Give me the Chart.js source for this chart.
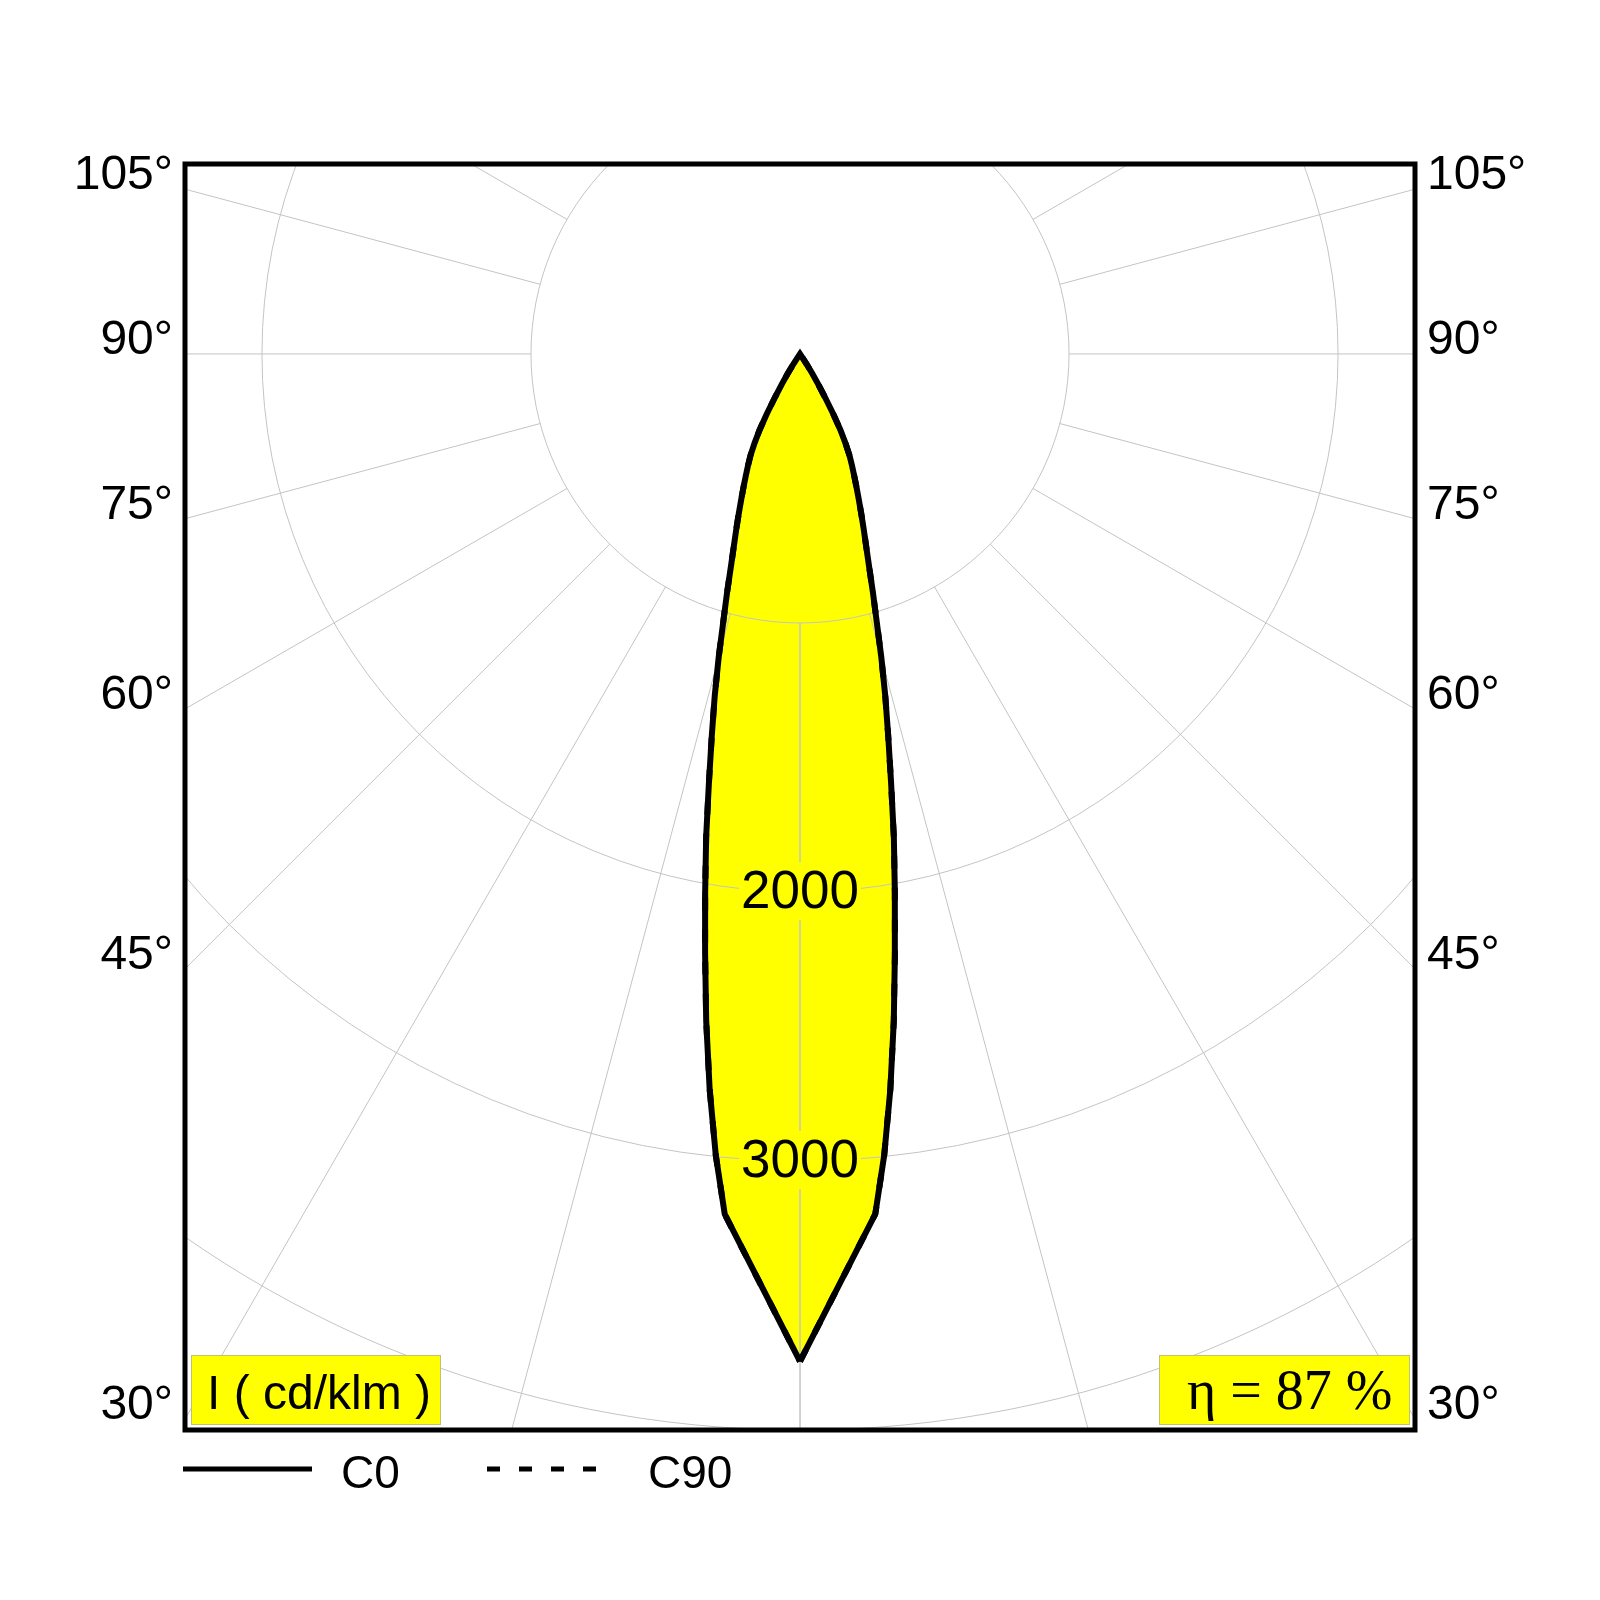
<!DOCTYPE html>
<html>
<head>
<meta charset="utf-8">
<title>Polar intensity diagram</title>
<script src="https://cdn.jsdelivr.net/npm/chart.js@4.4.1/dist/chart.umd.min.js"></script>
<style>
  html, body { margin: 0; padding: 0; background: #fff; }
  #wrap { width: 1600px; height: 1600px; }
</style>
</head>
<body>
<div id="wrap"><canvas id="polarChart" width="1600" height="1600"></canvas></div>
<script>
// gamma angles (deg) and intensities (cd/klm)
const gammaAngles = [0, 5, 6, 7, 8, 9, 10, 11, 12, 13, 14, 15, 16, 17, 18, 19, 20, 21, 22, 23, 24, 25, 26, 27, 28, 29, 30, 31, 32, 33, 34, 35];
const c0Values  = [3745, 3210, 2995, 2755, 2505, 2255, 2030, 1828, 1628, 1458, 1310, 1168, 1034, 927, 831, 755, 692, 635, 583, 537, 495, 457, 420, 372, 320, 255, 185, 130, 88, 45, 12, 0];
const c90Values = [3745, 3210, 2995, 2755, 2505, 2255, 2030, 1828, 1628, 1458, 1310, 1168, 1034, 927, 831, 755, 692, 635, 583, 537, 495, 457, 420, 372, 320, 255, 185, 130, 88, 45, 12, 0];
const seriesNames = ['C0', 'C90'];

// grid
const ringValues = [1000, 2000, 3000, 4000];
const ringLabels = [2000, 3000];
const angleTicks = [30, 45, 60, 75, 90, 105];
const unitLabel = 'I ( cd/klm )';
const efficiencyLabel = 'η = 87 %';

const SANS = "'Liberation Sans', Arial, sans-serif";
const SERIF = "'Liberation Serif', 'Times New Roman', serif";
const YELLOW = '#ffff00';

function toRad(d) {
    return d * Math.PI / 180;
}

// one C-plane half: sign 1 = right side, -1 = left side
function halfPlane(values, sign) {
    return gammaAngles.map((g, i) => ({
        x: sign * values[i] * Math.sin(toRad(g)),
        y: -values[i] * Math.cos(toRad(g))
    }));
}

// full closed curve (C0/C180 or C90/C270), symmetric luminaire
function closedCurve(values) {
    return halfPlane(values, 1).concat(halfPlane(values, -1).reverse());
}

function drawGrid(chart) {
    const { ctx, chartArea: a, scales: { x, y } } = chart;
    ctx.save();
    ctx.beginPath();
    ctx.rect(a.left, a.top, a.width, a.height);
    ctx.clip();
    ctx.strokeStyle = '#c4c4c4';
    ctx.lineWidth = 1;

    const cx = x.getPixelForValue(0);
    const cy = y.getPixelForValue(0);
    ringValues.forEach(v => {
        const r = x.getPixelForValue(v) - cx;
        ctx.beginPath();
        ctx.arc(cx, cy, r, 0, Math.PI * 2);
        ctx.stroke();
    });

    // radial lines every 15 deg, starting at the first ring
    const inner = ringValues[0];
    const outer = 8000;
    for (let g = 0; g <= 180; g += 15) {
        [1, -1].forEach(sign => {
            const s = sign * Math.sin(toRad(g));
            const c = Math.cos(toRad(g));
            ctx.beginPath();
            ctx.moveTo(x.getPixelForValue(inner * s), y.getPixelForValue(-inner * c));
            ctx.lineTo(x.getPixelForValue(outer * s), y.getPixelForValue(-outer * c));
            ctx.stroke();
        });
    }
    ctx.restore();
}

function drawDecor(chart) {
    const { ctx, chartArea: a, scales: { x, y } } = chart;
    ctx.save();

    // ring value labels
    ctx.font = '53px ' + SANS;
    ctx.textAlign = 'center';
    ctx.textBaseline = 'alphabetic';
    ringLabels.forEach(v => {
        const px = x.getPixelForValue(0);
        const py = y.getPixelForValue(-v) + 16;
        const w = ctx.measureText(String(v)).width;
        ctx.fillStyle = YELLOW;
        ctx.fillRect(px - w / 2 - 2, py - 46, w + 4, 58);
        ctx.fillStyle = '#000';
        ctx.fillText(String(v), px, py);
    });

    // frame
    ctx.strokeStyle = '#000';
    ctx.lineWidth = 5;
    ctx.strokeRect(a.left, a.top, a.width, a.height);

    // angle labels where the rays meet the side edges
    ctx.font = '48px ' + SANS;
    ctx.fillStyle = '#000';
    const xEdge = x.max;
    angleTicks.forEach(g => {
        const t = xEdge / Math.sin(toRad(g));
        const py = y.getPixelForValue(-t * Math.cos(toRad(g)));
        ctx.textAlign = 'right';
        ctx.fillText(g + '°', a.left - 12, py);
        ctx.textAlign = 'left';
        ctx.fillText(g + '°', a.right + 12, py);
    });

    // unit box (bottom left)
    ctx.fillStyle = YELLOW;
    ctx.strokeStyle = '#c2c26a';
    ctx.lineWidth = 1;
    ctx.fillRect(a.left + 6, a.bottom - 75, 249, 69);
    ctx.strokeRect(a.left + 6.5, a.bottom - 74.5, 249, 69);
    ctx.fillStyle = '#000';
    ctx.textAlign = 'left';
    ctx.font = '48px ' + SANS;
    ctx.fillText(unitLabel, a.left + 22, a.bottom - 21);

    // efficiency box (bottom right)
    ctx.fillStyle = YELLOW;
    ctx.fillRect(a.right - 256, a.bottom - 75, 250, 69);
    ctx.strokeRect(a.right - 255.5, a.bottom - 74.5, 250, 69);
    ctx.fillStyle = '#000';
    ctx.font = '56px ' + SERIF;
    ctx.fillText(efficiencyLabel, a.right - 228, a.bottom - 21);

    // legend below the frame
    const ly = a.bottom + 39;
    ctx.lineWidth = 5;
    ctx.strokeStyle = '#000';
    ctx.beginPath();
    ctx.moveTo(a.left - 2, ly);
    ctx.lineTo(a.left + 127, ly);
    ctx.stroke();
    ctx.setLineDash([13, 19]);
    ctx.beginPath();
    ctx.moveTo(a.left + 302, ly);
    ctx.lineTo(a.left + 413, ly);
    ctx.stroke();
    ctx.setLineDash([]);
    ctx.font = '46px ' + SANS;
    ctx.fillText(seriesNames[0], a.left + 156, a.bottom + 58);
    ctx.fillText(seriesNames[1], a.left + 463, a.bottom + 58);

    ctx.restore();
}

const polarPlugin = {
    id: 'polarPlugin',
    afterDatasetDraw(chart, args) {
        // grid sits over the yellow fill but under the curves
        if (args.index === 2) drawGrid(chart);
    },
    afterDraw(chart) {
        drawDecor(chart);
    }
};

const ctx = document.getElementById('polarChart').getContext('2d');
new Chart(ctx, {
    type: 'scatter',
    data: {
        datasets: [
            {
                label: seriesNames[0],
                data: closedCurve(c0Values),
                showLine: true,
                borderColor: '#000',
                borderWidth: 6,
                borderJoinStyle: 'miter',
                pointRadius: 0,
                tension: 0,
                fill: false,
                order: 1
            },
            {
                label: seriesNames[1],
                data: closedCurve(c90Values),
                showLine: true,
                borderColor: '#000',
                borderWidth: 6,
                borderDash: [13, 19],
                pointRadius: 0,
                tension: 0,
                fill: false,
                order: 2
            },
            {
                label: 'fill',
                data: closedCurve(c0Values),
                showLine: true,
                borderWidth: 0,
                borderColor: 'rgba(0,0,0,0)',
                backgroundColor: YELLOW,
                pointRadius: 0,
                tension: 0,
                fill: 'shape',
                order: 3
            }
        ]
    },
    options: {
        responsive: false,
        animation: false,
        devicePixelRatio: 1,
        layout: { padding: { left: 185, right: 185, top: 164, bottom: 170 } },
        scales: {
            x: { type: 'linear', min: -2286, max: 2286, display: false },
            y: { type: 'linear', min: -4000, max: 706, display: false }
        },
        plugins: {
            legend: { display: false },
            tooltip: { enabled: false }
        }
    },
    plugins: [polarPlugin]
});
</script>
</body>
</html>
